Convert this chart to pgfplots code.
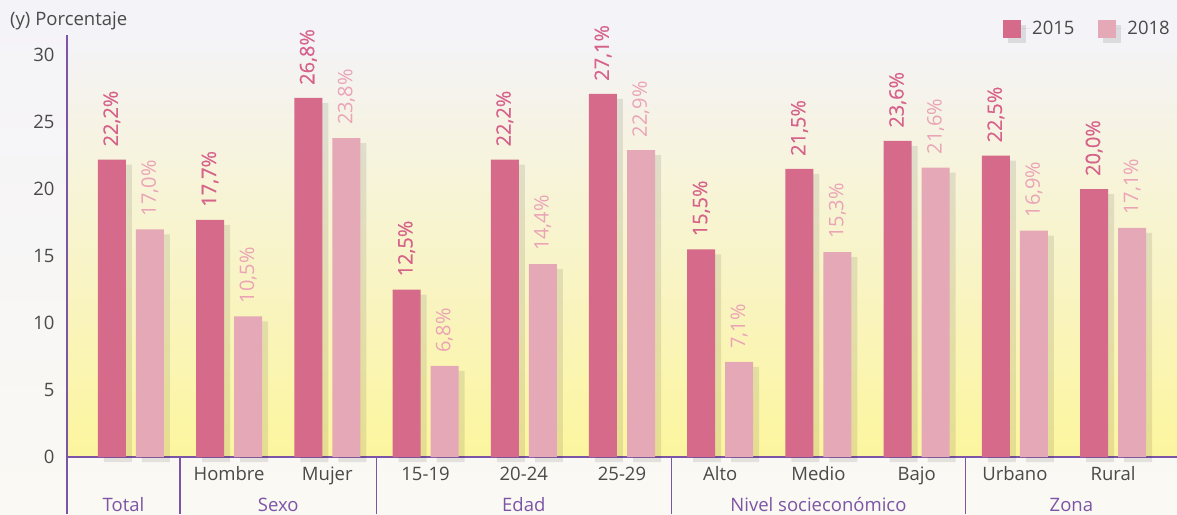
\documentclass[border=0pt]{standalone}
\usepackage{pgfplots}
\usepackage{pgfplotstable}
\pgfplotsset{compat=1.18}
\usepackage{fontspec}
\setmainfont{Open Sans}
\newfontfamily\sbfont[FakeBold=0.45]{Open Sans}
\definecolor{cA}{HTML}{D56A8B}
\definecolor{cB}{HTML}{E5A8B6}
\definecolor{lA}{HTML}{D6628A}
\definecolor{lB}{HTML}{EBA3B6}
\definecolor{pur}{HTML}{7D55A6}
\definecolor{txt}{HTML}{4A4A4A}
\definecolor{bgtop}{HTML}{F4F3F8}
\definecolor{bgbot}{HTML}{FBF9F3}
\definecolor{yel}{HTML}{FCF59E}
\definecolor{midc}{HTML}{F9F7E8}

\pgfplotstableread{
x y15 y18
0 22.2 17.0
1 17.7 10.5
2 26.8 23.8
3 12.5 6.8
4 22.2 14.4
5 27.1 22.9
6 15.5 7.1
7 21.5 15.3
8 23.6 21.6
9 22.5 16.9
10 20.0 17.1
}\datatable

\begin{document}
\begin{tikzpicture}
\path[use as bounding box] (0pt,0pt) rectangle (1177pt,514pt);
\shade[top color=bgtop, bottom color=bgbot] (0pt,0pt) rectangle (1177pt,514pt);
\begin{axis}[
  at={(67pt,57pt)}, anchor=south west, scale only axis,
  width=1110pt, height=422pt,
  xmin=-0.65, xmax=10.65, ymin=0, ymax=31.5,
  clip=false,
  font=\fontsize{18.5}{21}\selectfont,
  /pgf/number format/assume math mode=true,
  axis background/.style={shade, top color=bgtop, middle color=midc, bottom color=yel},
  axis x line*=bottom, axis y line*=left,
  axis line style={draw=pur, line width=1.2pt},
  major tick length=0pt,
  ytick={0,5,...,30},
  yticklabel style={text=txt, xshift=-9pt},
  xtick={0,...,10},
  xticklabels={,Hombre,Mujer,15-19,20-24,25-29,Alto,Medio,Bajo,Urbano,Rural},
  xticklabel style={text=txt, anchor=base, yshift=-23pt},
  legend style={at={(1,1)}, anchor=east, xshift=-2pt, yshift=4pt, draw=none, fill=none,
    font=\fontsize{18.5}{21}\selectfont, text=txt,
    /tikz/every even column/.append style={column sep=22pt}},
  legend columns=2,
  legend image code/.code={
    \path (0pt,0pt) -- (27pt,0pt);
    \fill[black, fill opacity=0.1] (5pt,-14pt) rectangle (23pt,4pt);
    \fill[#1, draw=none] (0pt,-9pt) rectangle (18pt,9pt);
  },
]
% shadows
\addplot[ybar, bar width=0.285, bar shift=-0.1935, fill=black, fill opacity=0.09, draw=none, xshift=6pt, yshift=-5pt, forget plot] table[x=x,y=y15]{\datatable};
\addplot[ybar, bar width=0.285, bar shift=0.1935, fill=black, fill opacity=0.09, draw=none, xshift=6pt, yshift=-5pt, forget plot] table[x=x,y=y18]{\datatable};
% bars
\addplot[ybar, bar width=0.285, bar shift=-0.1935, fill=cA, draw=none,
  nodes near coords={\pgfmathprintnumber[fixed,fixed zerofill,precision=1,use comma,assume math mode=true]{\pgfplotspointmeta}\%},
  every node near coord/.append style={xshift=-19pt, yshift=13pt, rotate=90, anchor=west, inner sep=0pt, text=lA, font=\fontsize{20}{22}\sbfont}]
  table[x=x,y=y15]{\datatable};
\addlegendentry{2015}
\addplot[ybar, bar width=0.285, bar shift=0.1935, fill=cB, draw=none,
  nodes near coords={\pgfmathprintnumber[fixed,fixed zerofill,precision=1,use comma,assume math mode=true]{\pgfplotspointmeta}\%},
  every node near coord/.append style={xshift=19pt, yshift=13pt, rotate=90, anchor=west, inner sep=0pt, text=lB, font=\fontsize{20}{22}\selectfont}]
  table[x=x,y=y18]{\datatable};
\addlegendentry{2018}
% y axis extension and separators
\draw[pur, line width=1.2pt] (axis cs:-0.65,0) -- ++(0pt,-57pt);
\draw[pur, line width=1.2pt] (axis cs:0.5,0) -- ++(0pt,-57pt);
\draw[pur, line width=1.2pt] (axis cs:2.5,0) -- ++(0pt,-57pt);
\draw[pur, line width=1.2pt] (axis cs:5.5,0) -- ++(0pt,-57pt);
\draw[pur, line width=1.2pt] (axis cs:8.5,0) -- ++(0pt,-57pt);
\node[anchor=base, text=pur] at ([yshift=-54pt]axis cs:-0.075,0) {Total};
\node[anchor=base, text=pur] at ([yshift=-54pt]axis cs:1.5,0) {Sexo};
\node[anchor=base, text=pur] at ([yshift=-54pt]axis cs:4,0) {Edad};
\node[anchor=base, text=pur] at ([yshift=-54pt]axis cs:7,0) {Nivel socieconómico};
\node[anchor=base, text=pur] at ([yshift=-54pt]axis cs:9.575,0) {Zona};
\node[anchor=base west, text=txt, inner sep=0pt] at ([xshift=-57pt, yshift=9pt]rel axis cs:0,1) {(y) Porcentaje};
\end{axis}
\end{tikzpicture}
\end{document}
